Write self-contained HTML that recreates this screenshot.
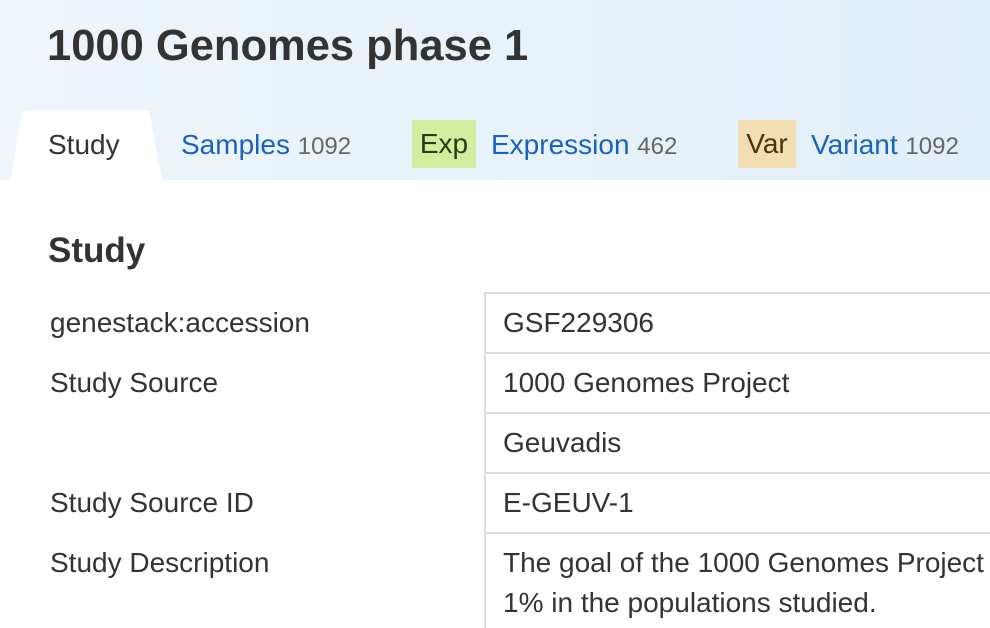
<!DOCTYPE html>
<html><head><meta charset="utf-8"><style>
body{margin:0;width:990px;height:628px;overflow:hidden;background:#fff;font-family:"Liberation Sans",Arial,sans-serif;color:#333;position:relative}
.abs{position:absolute;white-space:nowrap}
#hdr{position:absolute;left:0;top:0;width:990px;height:180px;background:linear-gradient(90deg,#eef5fb,#e3eff9)}
.tab{font-size:28px;line-height:48px;top:121px}
.blue{color:#1a62b8}.cnt{color:#666;font-size:24px}
.badge{top:120px;height:48px;border-radius:2px;font-size:28px;line-height:48px;text-align:center}
.lbl{left:50px;font-size:28px;color:#333;line-height:30px}
.cell{left:503px;font-size:28px;color:#333;line-height:30px}
.hl{position:absolute;left:485px;width:505px;height:2px;background:#ddd}
</style></head><body>
<div id="hdr"></div>
<div class="abs" style="left:47px;top:22px;font-size:43.5px;font-weight:bold;color:#333">1000 Genomes phase 1</div>
<svg class="abs" style="left:0;top:108px" width="170" height="74"><path d="M10 72 L22 6 Q23 2 28 2 L144 2 Q149 2 150 6 L162 72 Z" fill="#fff"/></svg>
<div class="abs tab" style="left:48px;color:#333">Study</div>
<div class="abs tab" style="left:181px"><span class="blue">Samples</span> <span class="cnt">1092</span></div>
<div class="abs badge" style="left:412px;width:64px;background:#d4eda0;color:#2a3a10">Exp</div>
<div class="abs tab" style="left:491px"><span class="blue">Expression</span> <span class="cnt">462</span></div>
<div class="abs badge" style="left:738px;width:58px;background:#f1deb2;color:#4a3010">Var</div>
<div class="abs tab" style="left:811px"><span class="blue">Variant</span> <span class="cnt">1092</span></div>
<div class="abs" style="left:48px;top:231px;font-size:35px;font-weight:bold;color:#333">Study</div>
<div style="position:absolute;left:484px;top:292px;width:2px;height:336px;background:#ddd"></div>
<div class="hl" style="top:292px"></div>
<div class="hl" style="top:352px"></div>
<div class="hl" style="top:412px"></div>
<div class="hl" style="top:472px"></div>
<div class="hl" style="top:532px"></div>
<div class="abs lbl" style="top:308px">genestack:accession</div>
<div class="abs cell" style="top:308px">GSF229306</div>
<div class="abs lbl" style="top:368px">Study Source</div>
<div class="abs cell" style="top:368px">1000 Genomes Project</div>
<div class="abs cell" style="top:428px">Geuvadis</div>
<div class="abs lbl" style="top:488px">Study Source ID</div>
<div class="abs cell" style="top:488px">E-GEUV-1</div>
<div class="abs lbl" style="top:548px">Study Description</div>
<div class="abs cell" style="top:543px;line-height:40px">The goal of the 1000 Genomes Project<br>1% in the populations studied.</div>
</body></html>
